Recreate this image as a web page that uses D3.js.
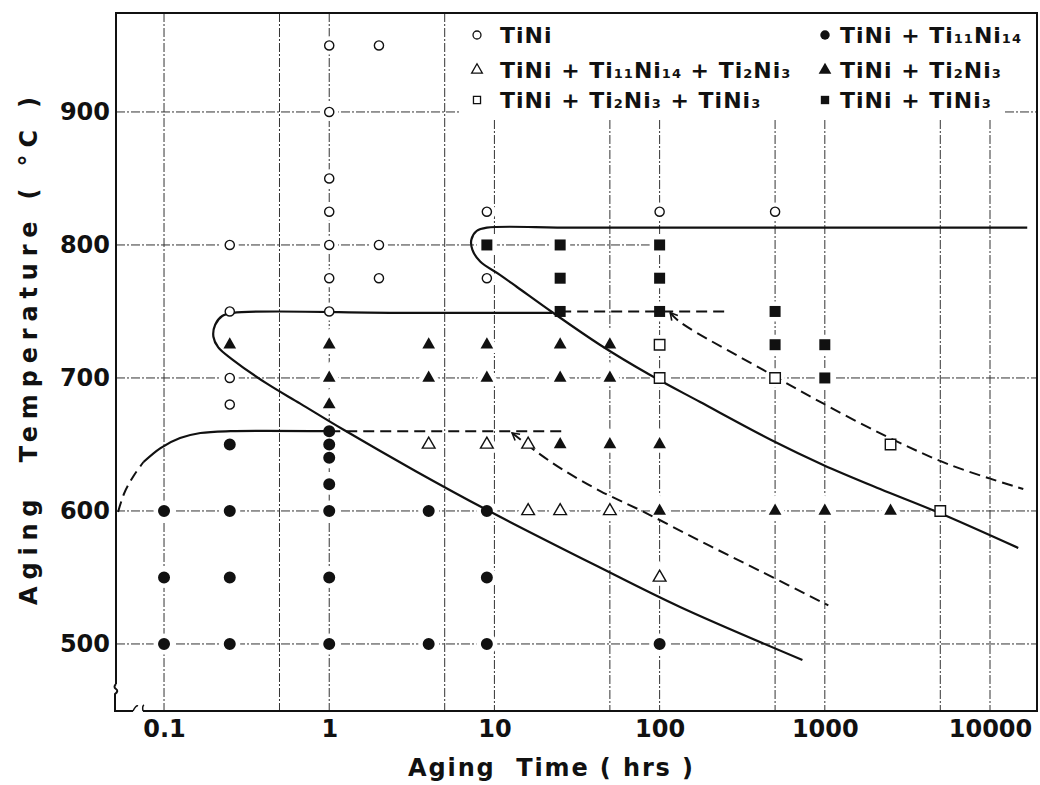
<!DOCTYPE html>
<html>
<head>
<meta charset="utf-8">
<script src="https://cdn.jsdelivr.net/npm/d3@7/dist/d3.min.js"></script>
<style>
  body { margin: 0; background: #fff; }
  svg { display: block; }
  text { font-family: "DejaVu Sans", sans-serif; font-weight: bold; fill: #111; white-space: pre; }
</style>
</head>
<body>
<svg id="chart" width="1040" height="785"></svg>
<script>
// aging time in hrs, temperature in °C
const timeTicks = [0.1, 1, 10, 100, 1000, 10000];
const tempTicks = [500, 600, 700, 800, 900];
const gridTimes = [0.1, 0.5, 1, 5, 10, 50, 100, 500, 1000, 5000, 10000];

const tiNi = [[1, 950], [2, 950], [1, 900], [1, 850], [1, 825], [9, 825], [100, 825], [500, 825],
  [0.25, 800], [1, 800], [2, 800], [1, 775], [2, 775], [9, 775], [0.25, 750], [1, 750], [0.25, 700], [0.25, 680]];
const tiNiTi11Ni14 = [[0.1, 600], [0.1, 550], [0.1, 500], [0.25, 650], [0.25, 600], [0.25, 550], [0.25, 500],
  [1, 660], [1, 650], [1, 640], [1, 620], [1, 600], [1, 550], [1, 500], [4, 600], [4, 500],
  [9, 600], [9, 550], [9, 500], [100, 500]];
const tiNiTi11Ni14Ti2Ni3 = [[4, 650], [9, 650], [16, 650], [16, 600], [25, 600], [50, 600], [100, 550]];
const tiNiTi2Ni3 = [[0.25, 725], [1, 725], [1, 700], [1, 680], [4, 725], [4, 700], [9, 725], [9, 700],
  [25, 725], [25, 700], [25, 650], [50, 725], [50, 700], [50, 650], [100, 650], [100, 600],
  [500, 600], [1000, 600], [2500, 600]];
const tiNiTi2Ni3TiNi3 = [[100, 725], [100, 700], [500, 700], [2500, 650], [5000, 600]];
const tiNiTiNi3 = [[9, 800], [25, 800], [100, 800], [25, 775], [100, 775], [25, 750], [100, 750],
  [500, 750], [500, 725], [1000, 725], [1000, 700]];

// phase boundaries
const boundaryUpper = [[16800, 813], [1000, 813], [30, 813], [9.0, 813], [7.8, 810.5], [7.25, 804], [7.35, 796.5],
  [8.2, 787.5], [10.8, 777.5], [13.7, 768.4], [22.3, 749.6], [43.7, 724.8], [87.7, 702.2], [176, 681.9],
  [487, 652.6], [978, 634.6], [2163, 616.5], [4790, 599.2], [14820, 572.2]];
const boundaryMiddle = [[22.4, 749], [2.7, 749], [0.262, 749], [0.225, 746.6], [0.204, 740], [0.199, 731],
  [0.213, 723], [0.262, 713.5], [0.42, 695.7], [0.668, 680.7], [1.215, 661.2], [3.32, 630.1],
  [9.03, 600.7], [41.8, 558.6], [133, 527.8], [732, 488]];
const boundaryLower = [[0.0751, 636.8], [0.0952, 647.3], [0.125, 654.8], [0.166, 658.6], [0.252, 660], [1, 660]];
const boundaryLowerDashed = [[0.0527, 599.2], [0.0575, 613.5], [0.0654, 626.3], [0.0751, 636.8]];
const dashed660 = [[1, 660], [27, 660]];
const dashed750 = [[25, 750], [250, 750]];
const dashedUpper = [[116, 749], [133, 742], [424, 706], [938, 682], [2400, 655.6], [5740, 634.6], [15900, 616.5]];
const dashedLower = [[12.8, 658.6], [17.7, 645.1], [26, 631], [43.7, 615], [79.6, 599.5], [176, 577.4],
  [406, 554.9], [1050, 529]];

const phases = [
  { label: 'TiNi', data: tiNi, shape: 'circle', filled: false, col: 0, row: 0 },
  { label: 'TiNi + Ti_11Ni_14 + Ti_2Ni_3', data: tiNiTi11Ni14Ti2Ni3, shape: 'triangle', filled: false, col: 0, row: 1 },
  { label: 'TiNi + Ti_2Ni_3 + TiNi_3', data: tiNiTi2Ni3TiNi3, shape: 'square', filled: false, col: 0, row: 2 },
  { label: 'TiNi + Ti_11Ni_14', data: tiNiTi11Ni14, shape: 'circle', filled: true, col: 1, row: 0 },
  { label: 'TiNi + Ti_2Ni_3', data: tiNiTi2Ni3, shape: 'triangle', filled: true, col: 1, row: 1 },
  { label: 'TiNi + TiNi_3', data: tiNiTiNi3, shape: 'square', filled: true, col: 1, row: 2 }
];

const frame = { left: 116, top: 13, right: 1037, bottom: 711 };
const svg = d3.select('#chart');

const x = d3.scaleLog().domain([0.0512, 19250]).range([frame.left, frame.right]);
const y = d3.scaleLinear().domain([449.6, 974.4]).range([frame.bottom, frame.top]);

// grid
const grid = svg.append('g')
  .attr('stroke', '#333')
  .attr('stroke-width', 1)
  .attr('stroke-dasharray', '9,2,2,2');
grid.selectAll('.vgrid')
  .data(gridTimes)
  .enter()
  .append('line')
  .attr('x1', d => x(d))
  .attr('x2', d => x(d))
  .attr('y1', d => d <= 5 ? frame.top : 120)
  .attr('y2', frame.bottom);
const hSegments = [];
tempTicks.forEach(t => {
  if (t === 900) {
    hSegments.push([t, frame.left, 460], [t, 1005, frame.right]);
  } else if (t === 800) {
    hSegments.push([t, frame.left, 670]);
  } else {
    hSegments.push([t, frame.left, frame.right]);
  }
});
grid.selectAll('.hgrid')
  .data(hSegments)
  .enter()
  .append('line')
  .attr('x1', d => d[1])
  .attr('x2', d => d[2])
  .attr('y1', d => y(d[0]))
  .attr('y2', d => y(d[0]));

// frame with axis breaks
const axisLines = svg.append('g').attr('stroke', '#111').attr('stroke-width', 2).attr('fill', 'none');
axisLines.append('path')
  .attr('d', `M${frame.left},684 L${frame.left},${frame.top} L${frame.right},${frame.top} L${frame.right},${frame.bottom} L143,${frame.bottom}`);
axisLines.append('path')
  .attr('d', `M${frame.left},684 q-3,3 0,5 q3,2 -1,5 L${frame.left - 1},${frame.bottom} L133,${frame.bottom}`);
axisLines.append('path')
  .attr('d', `M133,${frame.bottom} q3,-6 5,-5 M143,${frame.bottom} q-1,-5 1,-6`)
  .attr('stroke-width', 1.5);

// axes
const yAxis = svg.append('g')
  .attr('transform', `translate(${frame.left},0)`)
  .call(d3.axisLeft(y).tickValues(tempTicks).tickSize(0).tickPadding(6));
yAxis.select('.domain').remove();
yAxis.selectAll('text')
  .attr('font-size', 24)
  .attr('font-family', '"DejaVu Sans", sans-serif')
  .attr('font-weight', 'bold')
  .attr('fill', '#111');

const xAxis = svg.append('g')
  .attr('transform', `translate(0,${frame.bottom})`)
  .call(d3.axisBottom(x).tickValues(timeTicks).tickSize(0).tickPadding(9).tickFormat(d => String(d)));
xAxis.select('.domain').remove();
xAxis.selectAll('text')
  .attr('font-size', 24)
  .attr('font-family', '"DejaVu Sans", sans-serif')
  .attr('font-weight', 'bold')
  .attr('fill', '#111');

svg.append('text')
  .attr('x', 408)
  .attr('y', 776)
  .attr('font-size', 24)
  .attr('textLength', 285)
  .attr('lengthAdjust', 'spacing')
  .text('Aging  Time ( hrs )');

svg.append('text')
  .attr('transform', 'translate(37,605) rotate(-90)')
  .attr('font-size', 24)
  .attr('textLength', 508)
  .attr('lengthAdjust', 'spacing')
  .text('Aging  Temperature ( °C )');

// symbols
const symbolType = { circle: d3.symbolCircle, triangle: d3.symbolTriangle, square: d3.symbolSquare };
function symbolSize(p) {
  if (p.shape === 'circle') return p.filled ? 113 : 66;
  if (p.shape === 'triangle') return 70;
  return p.filled ? 121 : 110;
}

// white gaps in the grid around markers
const halo = svg.append('g');
phases.forEach(p => {
  halo.selectAll(null)
    .data(p.data)
    .enter()
    .append('path')
    .attr('transform', d => `translate(${x(d[0])},${y(d[1])})`)
    .attr('d', d3.symbol().type(symbolType[p.shape]).size(symbolSize(p)))
    .attr('fill', '#fff')
    .attr('stroke', '#fff')
    .attr('stroke-width', 9);
});

// boundaries
svg.append('defs').append('marker')
  .attr('id', 'arrow')
  .attr('viewBox', '-1 -5 10 10')
  .attr('markerWidth', 10)
  .attr('markerHeight', 10)
  .attr('markerUnits', 'userSpaceOnUse')
  .attr('orient', 'auto')
  .append('path')
  .attr('d', 'M7,-4 L0,0 L7,4')
  .attr('fill', 'none')
  .attr('stroke', '#111')
  .attr('stroke-width', 1.6)
  .attr('stroke-dasharray', 'none');

const line = d3.line()
  .x(d => x(d[0]))
  .y(d => y(d[1]))
  .curve(d3.curveCatmullRom.alpha(0.5));

const curves = [
  { data: boundaryUpper, dashed: false },
  { data: boundaryMiddle, dashed: false },
  { data: boundaryLower, dashed: false },
  { data: boundaryLowerDashed, dashed: true },
  { data: dashed660, dashed: true },
  { data: dashed750, dashed: true },
  { data: dashedUpper, dashed: true, arrow: true },
  { data: dashedLower, dashed: true, arrow: true }
];
svg.append('g')
  .selectAll('path')
  .data(curves)
  .enter()
  .append('path')
  .attr('d', d => line(d.data))
  .attr('fill', 'none')
  .attr('stroke', '#111')
  .attr('stroke-width', d => d.dashed ? 2 : 2.2)
  .attr('stroke-dasharray', d => d.dashed ? '11,6' : null)
  .attr('marker-start', d => d.arrow ? 'url(#arrow)' : null);

// markers
const marks = svg.append('g');
phases.forEach(p => {
  marks.selectAll(null)
    .data(p.data)
    .enter()
    .append('path')
    .attr('transform', d => `translate(${x(d[0])},${y(d[1])})`)
    .attr('d', d3.symbol().type(symbolType[p.shape]).size(symbolSize(p)))
    .attr('fill', p.filled ? '#111' : '#fff')
    .attr('stroke', '#111')
    .attr('stroke-width', p.filled ? 0 : 1.4);
});

// legend
const legendCols = [{ mark: 477, text: 500 }, { mark: 825, text: 840 }];
const legendRows = [35, 70, 100];
const legend = svg.append('g');
phases.forEach(p => {
  const cy = legendRows[p.row];
  const col = legendCols[p.col];
  legend.append('path')
    .attr('transform', `translate(${col.mark},${cy})`)
    .attr('d', d3.symbol().type(symbolType[p.shape]).size(p.filled ? 70 : 50))
    .attr('fill', p.filled ? '#111' : '#fff')
    .attr('stroke', '#111')
    .attr('stroke-width', p.filled ? 0 : 1.3);
  const label = legend.append('text')
    .attr('x', col.text)
    .attr('y', cy + 8)
    .attr('letter-spacing', 1);
  p.label.split(/_(\d+)/).forEach((part, i) => {
    if (!part) return;
    label.append('tspan')
      .attr('font-size', i % 2 ? 13 : 22)
      .text(part);
  });
});
</script>
</body>
</html>
